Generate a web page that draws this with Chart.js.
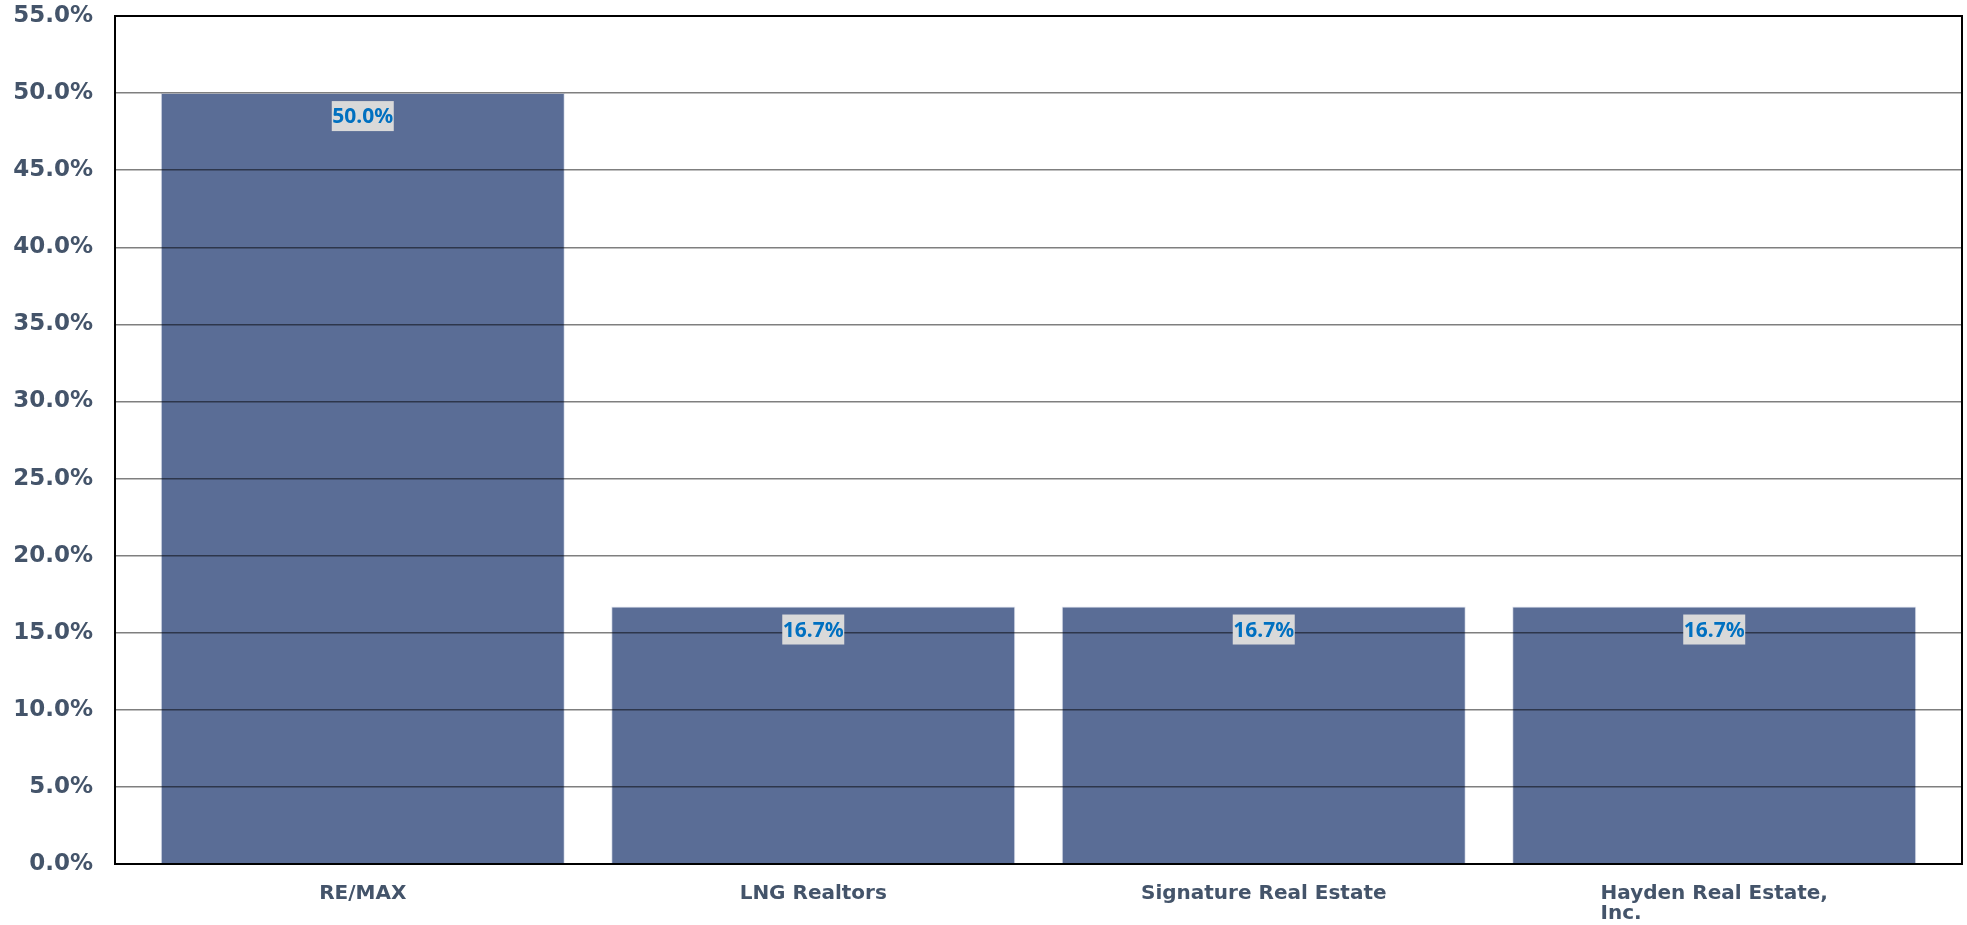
<!DOCTYPE html>
<html>
<head>
<meta charset="utf-8">
<script src="https://cdn.jsdelivr.net/npm/chart.js@4"></script>
<style>
  html, body { margin: 0; padding: 0; background: #fff; }
  #wrap { width: 1967px; height: 925px; }
</style>
</head>
<body>
<div id="wrap"><canvas id="barChart" width="1967" height="925"></canvas></div>
<script>
// chart data
const categories = ['RE/MAX', 'LNG Realtors', 'Signature Real Estate', ['Hayden Real Estate,', 'Inc.']];
const shares = [50.0, 16.7, 16.7, 16.7];
const yTicks = [0, 5, 10, 15, 20, 25, 30, 35, 40, 45, 50, 55];

const textColor = '#44546A';
const barColor = '#5A6D96';

// frame round the plot area
const framePlugin = {
    id: 'frame',
    afterDraw(chart) {
        const a = chart.chartArea, ctx = chart.ctx;
        ctx.save();
        ctx.strokeStyle = '#000';
        ctx.lineWidth = 2;
        ctx.strokeRect(a.left, a.top, a.right - a.left, a.bottom - a.top);
        ctx.restore();
    }
};

// category labels under the bars, lines left aligned inside a centred block
const xLabelPlugin = {
    id: 'xLabels',
    afterDraw(chart) {
        const ctx = chart.ctx, xs = chart.scales.x;
        ctx.save();
        ctx.font = 'bold 20px "DejaVu Sans"';
        ctx.fillStyle = textColor;
        ctx.textBaseline = 'middle';
        ctx.textAlign = 'left';
        categories.forEach((lab, i) => {
            const lines = Array.isArray(lab) ? lab : [lab];
            const w = Math.max(...lines.map(l => ctx.measureText(l).width));
            const cx = xs.getPixelForValue(i);
            lines.forEach((l, j) => {
                ctx.fillText(l, cx - w / 2, chart.chartArea.bottom + 30 + j * 20);
            });
        });
        ctx.restore();
    }
};

// value labels in a grey box just under the bar tops
const valueLabelPlugin = {
    id: 'valueLabels',
    afterDraw(chart) {
        const ctx = chart.ctx;
        const meta = chart.getDatasetMeta(0);
        ctx.save();
        ctx.font = 'bold 21px "Noto Sans"';
        ctx.textAlign = 'center';
        ctx.textBaseline = 'middle';
        meta.data.forEach((bar, i) => {
            const txt = shares[i].toFixed(1) + '%';
            const bw = 62, bh = 30;
            const top = bar.y + 8;
            ctx.fillStyle = '#D9D9D9';
            ctx.fillRect(bar.x - bw / 2, top, bw, bh);
            ctx.fillStyle = '#0070C0';
            ctx.fillText(txt, bar.x, top + bh / 2 + 1);
        });
        ctx.restore();
    }
};

const barChart = new Chart('barChart', {
    type: 'bar',
    data: {
        datasets: [{
            data: shares.map((v, i) => ({ x: i, y: v })),
            backgroundColor: barColor,
            borderColor: 'rgba(200, 208, 225, 0.6)',
            borderWidth: 1,
            categoryPercentage: 0.897,
            barPercentage: 1
        }]
    },
    options: {
        responsive: false,
        animation: false,
        layout: { padding: { top: 16, right: 5, left: 0, bottom: 0 } },
        plugins: {
            legend: { display: false },
            tooltip: { enabled: false }
        },
        scales: {
            x: {
                type: 'linear',
                min: -0.55,
                max: 3.55,
                offset: false,
                grid: { display: false },
                border: { display: false },
                ticks: { display: false, stepSize: 1, includeBounds: false },
                afterFit(scale) { scale.height = 61; }
            },
            y: {
                min: 0,
                max: 55,
                afterBuildTicks(scale) { scale.ticks = yTicks.map(v => ({ value: v })); },
                ticks: {
                    color: textColor,
                    font: { family: 'DejaVu Sans', size: 23, weight: 'bold' },
                    padding: 22,
                    callback: v => v.toFixed(1) + '%'
                },
                grid: {
                    color: 'rgba(0, 0, 0, 0.5)',
                    lineWidth: 1.5,
                    drawTicks: false,
                    z: 1
                },
                border: { display: false },
                afterFit(scale) {
                    scale.width = 115;
                    scale.paddingTop = 0;
                    scale.paddingBottom = 0;
                }
            }
        }
    },
    plugins: [framePlugin, valueLabelPlugin, xLabelPlugin]
});
</script>
</body>
</html>
